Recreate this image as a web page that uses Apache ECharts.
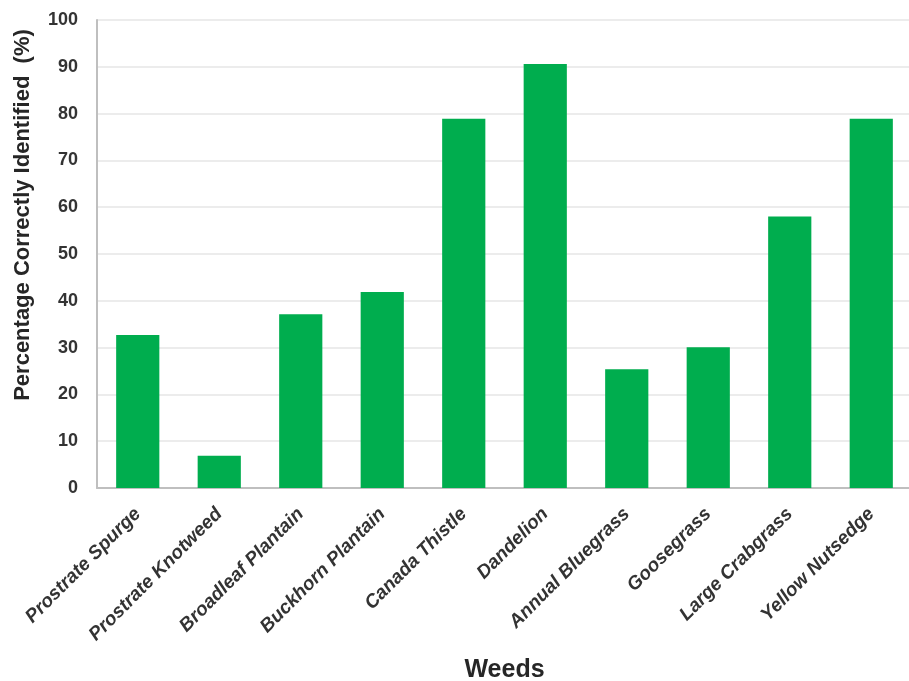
<!DOCTYPE html>
<html><head><meta charset="utf-8">
<script src="https://cdn.jsdelivr.net/npm/echarts@6/dist/echarts.min.js"></script>
<style>html,body{margin:0;padding:0;background:#fff}#c{width:909px;height:681px}</style>
</head><body><div id="c"></div>
<script>
const categories = ["Prostrate Spurge","Prostrate Knotweed","Broadleaf Plantain","Buckhorn Plantain","Canada Thistle","Dandelion","Annual Bluegrass","Goosegrass","Large Crabgrass","Yellow Nutsedge"];
const values = [32.7, 6.9, 37.1, 41.9, 78.9, 90.6, 25.4, 30.1, 58.0, 78.9];
const yTicks = {min: 0, max: 100, interval: 10};

const chart = echarts.init(document.getElementById('c'), null, {renderer: 'canvas'});
chart.setOption({
  animation: false,
  grid: {left: 97, right: -3, top: 20, bottom: 193, containLabel: false, outerBoundsMode: 'none'},
  xAxis: {
    type: 'category', data: categories,
    name: 'Weeds', nameLocation: 'middle', nameGap: 170,
    nameTextStyle: {fontFamily: 'Liberation Sans', fontWeight: 'bold', fontSize: 25, color: '#262626'},
    axisLine: {lineStyle: {color: '#bfbfbf', width: 2}},
    axisTick: {show: false},
    axisLabel: {rotate: 45, interval: 0, margin: 23, fontFamily: 'Liberation Sans', fontWeight: 'bold', fontStyle: 'italic', fontSize: 19, color: '#333333'}
  },
  yAxis: {
    type: 'value', min: yTicks.min, max: yTicks.max, interval: yTicks.interval,
    name: 'Percentage Correctly Identified  (%)', nameLocation: 'middle', nameGap: 63,
    nameTextStyle: {fontFamily: 'Liberation Sans', fontWeight: 'bold', fontSize: 22, color: '#262626', padding: [0, 0, 0, 78]},
    axisLine: {show: true, lineStyle: {color: '#bfbfbf', width: 2}},
    axisTick: {show: false},
    splitLine: {lineStyle: {color: '#e6e6e6', width: 1.5}},
    axisLabel: {margin: 19, fontFamily: 'Liberation Sans', fontWeight: 'bold', fontSize: 18, color: '#333333'}
  },
  series: [{
    type: 'bar', data: values, barWidth: '53%',
    itemStyle: {color: '#00ad4e'}
  }]
});
</script></body></html>
